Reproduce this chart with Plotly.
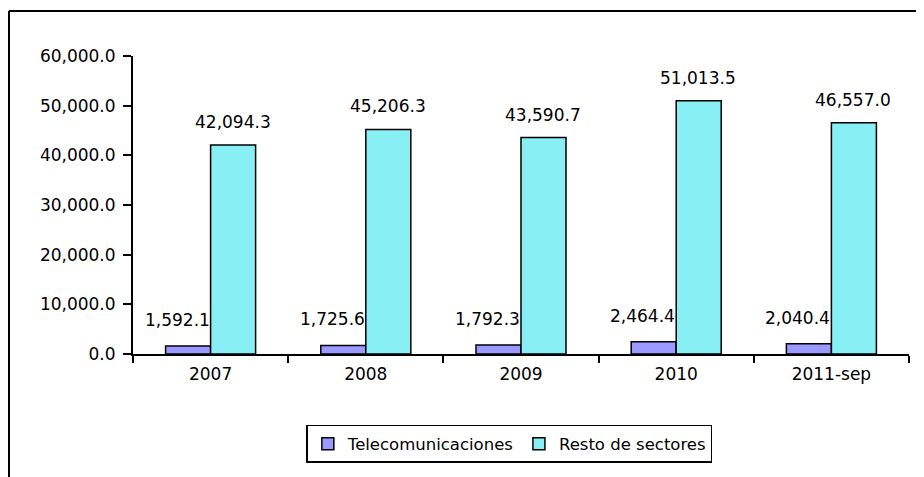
import plotly.graph_objects as go

categories = ["2007", "2008", "2009", "2010", "2011-sep"]
telecom = [1592.1, 1725.6, 1792.3, 2464.4, 2040.4]
resto = [42094.3, 45206.3, 43590.7, 51013.5, 46557.0]
series_names = ["Telecomunicaciones", "Resto de sectores"]
y_ticks = [0, 10000, 20000, 30000, 40000, 50000, 60000]

FONT = "DejaVu Sans"
FS = 17

fig = go.Figure()
fig.add_trace(go.Bar(
    x=categories, y=telecom, name=series_names[0],
    marker=dict(color="#9999FF", line=dict(color="black", width=1.5)),
))
fig.add_trace(go.Bar(
    x=categories, y=resto, name=series_names[1],
    marker=dict(color="#88EFF4", line=dict(color="black", width=1.5)),
))

annotations = []
for i, v in enumerate(telecom):
    annotations.append(dict(
        x=i, y=v, xref="x", yref="y", text=f"{v:,.1f}", showarrow=False,
        xanchor="right", yanchor="bottom", xshift=1, yshift=14,
        font=dict(family=FONT, size=FS, color="black"),
    ))
for i, v in enumerate(resto):
    annotations.append(dict(
        x=i, y=v, xref="x", yref="y", text=f"{v:,.1f}", showarrow=False,
        xanchor="center", yanchor="bottom", xshift=22, yshift=11,
        font=dict(family=FONT, size=FS, color="black"),
    ))

fig.update_layout(
    width=916, height=469,
    margin=dict(l=125, r=15, t=48, b=123),
    paper_bgcolor="white", plot_bgcolor="white",
    font=dict(family=FONT, size=FS, color="black"),
    barmode="group", bargap=0.42, bargroupgap=0,
    showlegend=True,
    legend=dict(
        orientation="h", x=0.485, xanchor="center", y=-0.238, yanchor="top",
        bordercolor="black", borderwidth=1.5, bgcolor="white",
        font=dict(family=FONT, size=16.5, color="black"),
        itemwidth=30, tracegroupgap=0,
    ),
    annotations=annotations,
    shapes=[
        dict(type="line", xref="paper", yref="paper", x0=-0.1598, x1=1.1,
             y0=1.151, y1=1.151, line=dict(color="black", width=2)),
        dict(type="line", xref="paper", yref="paper", x0=-0.1598, x1=-0.1598,
             y0=1.151, y1=-0.5, line=dict(color="black", width=2)),
    ],
)
fig.update_xaxes(
    type="category", categoryorder="array", categoryarray=categories,
    range=[-0.5, len(categories) - 0.5], autorange=False,
    showline=True, linecolor="black", linewidth=2,
    ticks="outside", tickson="boundaries", ticklen=7, tickwidth=2, tickcolor="black",
    showgrid=False, tickfont=dict(family=FONT, size=FS), tickangle=0,
    ticklabelstandoff=4,
)
fig.update_yaxes(
    range=[0, 60000], tickvals=y_ticks, tickformat=",.1f",
    showline=True, linecolor="black", linewidth=2,
    ticks="outside", ticklen=8, tickwidth=2, tickcolor="black",
    showgrid=False, zeroline=False, tickfont=dict(family=FONT, size=FS),
    ticklabelstandoff=4,
)

fig.write_html("out.html")
